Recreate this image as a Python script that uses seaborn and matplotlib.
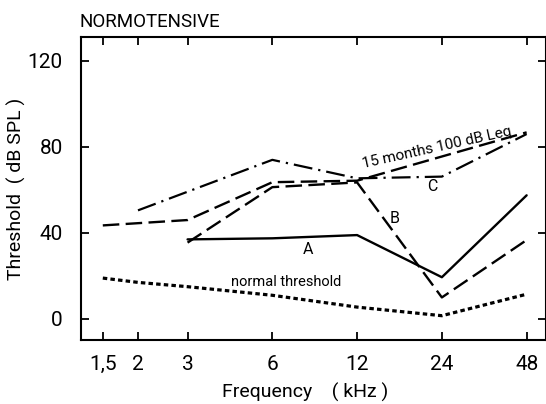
import matplotlib
matplotlib.use("Agg")
import matplotlib.pyplot as plt
import seaborn as sns
import pandas as pd

# ---- data ----
freq_A = [3, 6, 12, 24, 48]
thr_A = [37, 37.5, 39, 19.4, 57.5]

freq_B = [3, 6, 12, 24, 48]
thr_B = [35.5, 61.3, 63.5, 10, 36.7]

freq_C = [2, 6, 12, 24, 48]
thr_C = [50.5, 74, 65.4, 66.2, 86]

freq_Leq = [1.5, 3, 6, 12, 48]
thr_Leq = [43.5, 46, 63.6, 64.3, 86.8]

freq_norm = [1.5, 2, 3, 6, 12, 24, 48]
thr_norm = [19, 17, 15, 11, 5.5, 1.5, 11.5]

xticks = [1.5, 2, 3, 6, 12, 24, 48]
xtick_labels = ["1,5", "2", "3", "6", "12", "24", "48"]
yticks = [0, 40, 80, 120]

sns.set_style("ticks", rc={"text.color": "black", "axes.labelcolor": "black",
                           "xtick.color": "black", "ytick.color": "black",
                           "axes.edgecolor": "black"})
plt.rcParams["font.family"] = ["Roboto", "DejaVu Sans"]

fig = plt.figure(figsize=(5.46, 4.04), dpi=100)
ax = fig.add_axes([80.7 / 546, 1 - 340 / 404, (545.7 - 80.7) / 546, (340 - 37.3) / 404])

sns.lineplot(x=freq_A, y=thr_A, ax=ax, color="black", lw=1.7, linestyle="-")
sns.lineplot(x=freq_B, y=thr_B, ax=ax, color="black", lw=1.7, linestyle=(0, (7, 2.7)))
sns.lineplot(x=freq_Leq, y=thr_Leq, ax=ax, color="black", lw=1.7, linestyle=(0, (7, 2.7)))
sns.lineplot(x=freq_C, y=thr_C, ax=ax, color="black", lw=1.6, linestyle=(0, (8.5, 2.7, 1, 2.7)))
sns.lineplot(x=freq_norm, y=thr_norm, ax=ax, color="black", lw=2.3, linestyle=(0, (1.4, 1.0)))

ax.set_xscale("log", base=2)
ax.set_xlim(1.252, 56.1)
ax.set_ylim(-9.8, 131)
ax.set_xticks(xticks)
ax.set_xticklabels(xtick_labels)
ax.minorticks_off()
ax.set_yticks(yticks)
ax.set_xlabel("")
ax.set_ylabel("")

for s in ax.spines.values():
    s.set_visible(True)
    s.set_linewidth(1.5)
    s.set_color("black")

ax.tick_params(axis="both", direction="in", length=6, width=1.3, colors="black",
               top=True, right=True, labelsize=15)
ax.tick_params(axis="x", pad=11)
ax.tick_params(axis="y", pad=13)

# annotations
ax.text(23.0, 79.5, "15 months 100 dB Leq", rotation=12.5, ha="center", va="center", fontsize=11)
ax.text(22.1, 61.5, "C", ha="center", va="center", fontsize=11.5)
ax.text(16.3, 46.8, "B", ha="center", va="center", fontsize=11.5)
ax.text(8.0, 32.1, "A", ha="center", va="center", fontsize=11.5)
ax.text(6.7, 17.3, "normal threshold", ha="center", va="center", fontsize=10.5)

fig.text(79 / 546, 1 - 22 / 404, "NORMOTENSIVE", ha="left", va="center", fontsize=13.5)
fig.text(305 / 546, 1 - 392 / 404, "Frequency    ( kHz )", ha="center", va="center", fontsize=14)
fig.text(16.5 / 546, 1 - 189 / 404, "Threshold  ( dB SPL )", ha="center", va="center",
         rotation=90, fontsize=14)

fig.savefig("out.png", dpi=100)
